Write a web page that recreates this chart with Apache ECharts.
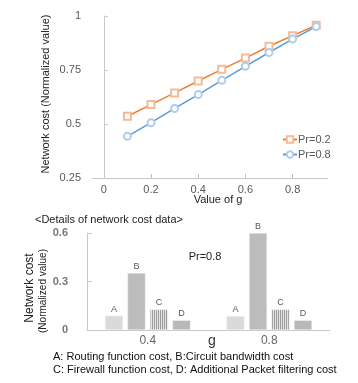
<!DOCTYPE html>
<html><head><meta charset="utf-8">
<script src="https://cdn.jsdelivr.net/npm/echarts@6/dist/echarts.min.js"></script>
<style>html,body{margin:0;padding:0;background:#fff}#c{width:358px;height:383px}</style>
</head><body><div id="c"></div>
<script>
const gValues = [0.1,0.2,0.3,0.4,0.5,0.6,0.7,0.8,0.9];
const pr02 = [0.536,0.590,0.644,0.699,0.753,0.805,0.860,0.909,0.957];
const pr08 = [0.443,0.506,0.572,0.636,0.702,0.767,0.831,0.893,0.951];
const xTickLabels = [0,0.2,0.4,0.6,0.8];
const barCategories = ['0.4','0.8'];
const costA = [0.088,0.086];
const costB = [0.353,0.600];
const costC = [0.127,0.127];
const costD = [0.060,0.060];

const F = 'Liberation Sans, Arial, sans-serif';
const axisGray = '#c8c8c8';
const lblGray = '#595959';
const chart = echarts.init(document.getElementById('c'), null, {renderer:'canvas'});

function barSeries(name, data, color, decal){
  const s = {
    name, type:'bar', xAxisIndex:1, yAxisIndex:1, data,
    barWidth:18, barGap:'25%',
    itemStyle:{color, borderColor:'#f2f2f2', borderWidth:0.5},
    label:{show:true, position:'top', formatter:name, fontFamily:F, fontSize:9, color:lblGray, distance:2},
    animation:false
  };
  if (decal) s.itemStyle.decal = decal;
  return s;
}

chart.setOption({
  animation:false,
  textStyle:{fontFamily:F},
  grid:[
    {left:92, top:16, width:236, height:162},
    {left:87, top:233, width:243, height:97}
  ],
  xAxis:[
    {type:'value', gridIndex:0, min:-0.05, max:0.95,
     axisLine:{show:true, lineStyle:{color:axisGray}},
     axisTick:{show:true, inside:true, length:4, customValues:[0.2,0.4,0.6,0.8], lineStyle:{color:'#a9c4e4'}},
     axisLabel:{customValues:xTickLabels, color:lblGray, fontSize:11, margin:6, fontFamily:F},
     splitLine:{show:false}},
    {type:'category', gridIndex:1, data:barCategories,
     axisLine:{show:true, lineStyle:{color:axisGray}},
     axisTick:{show:false},
     axisLabel:{color:'#666', fontSize:12, margin:5, fontFamily:F}}
  ],
  yAxis:[
    {type:'value', gridIndex:0, min:0.25, max:1, interval:0.25,
     axisLine:{show:true, lineStyle:{color:axisGray}},
     axisTick:{show:true, inside:true, length:4, lineStyle:{color:axisGray}},
     axisLabel:{color:lblGray, fontSize:11, margin:11, fontFamily:F},
     splitLine:{show:false}},
    {type:'value', gridIndex:1, min:0, max:0.6, interval:0.3,
     axisLine:{show:true, lineStyle:{color:axisGray}},
     axisTick:{show:true, inside:true, length:5, lineStyle:{color:axisGray}},
     axisLabel:{color:'#777', fontSize:11, fontWeight:'bold', margin:19, fontFamily:F},
     splitLine:{show:false}}
  ],
  legend:{
    data:['Pr=0.2','Pr=0.8'], orient:'vertical', left:277, top:129,
    itemWidth:14, itemHeight:8, itemGap:4,
    textStyle:{color:lblGray, fontSize:11, fontFamily:F, padding:[0,0,0,-4]}
  },
  series:[
    {name:'Pr=0.2', type:'line', xAxisIndex:0, yAxisIndex:0,
     data:gValues.map((g,i)=>[g,pr02[i]]),
     symbol:'emptyRect', symbolSize:7,
     lineStyle:{color:'#ed7d31', width:1.5},
     itemStyle:{color:'#f6bb96', borderColor:'#f6bb96', borderWidth:1}},
    {name:'Pr=0.8', type:'line', xAxisIndex:0, yAxisIndex:0,
     data:gValues.map((g,i)=>[g,pr08[i]]),
     symbol:'emptyCircle', symbolSize:7,
     lineStyle:{color:'#5b9bd5', width:1.5},
     itemStyle:{color:'#afcdeb', borderColor:'#afcdeb', borderWidth:1}},
    barSeries('A', costA, '#dadada'),
    barSeries('B', costB, '#bcbcbc'),
    barSeries('C', costC, '#e6e6e6', {symbol:'rect', symbolSize:1, dashArrayX:[1,1], dashArrayY:[4,0], rotation:0, color:'#9a9a9a'}),
    barSeries('D', costD, '#b8b8b8')
  ],
  graphic:[
    {type:'text', x:46, y:94, rotation:Math.PI/2,
     style:{text:'Network cost (Normalized value)', font:'11px '+F, fill:'#222', align:'center', verticalAlign:'middle'}},
    {type:'text', x:218, y:200,
     style:{text:'Value of g', font:'11px '+F, fill:'#222', align:'center', verticalAlign:'middle'}},
    {type:'text', x:35, y:220,
     style:{text:'<Details of network cost data>', font:'11px '+F, fill:'#222', align:'left', verticalAlign:'middle'}},
    {type:'text', x:205, y:257,
     style:{text:'Pr=0.8', font:'11px '+F, fill:'#222', align:'center', verticalAlign:'middle'}},
    {type:'text', x:30, y:288, rotation:Math.PI/2,
     style:{text:'Network cost', font:'12px '+F, fill:'#222', align:'center', verticalAlign:'middle'}},
    {type:'text', x:43, y:291, rotation:Math.PI/2,
     style:{text:'(Normalized value)', font:'10px '+F, fill:'#222', align:'center', verticalAlign:'middle'}},
    {type:'text', x:212, y:341,
     style:{text:'g', font:'14px '+F, fill:'#333', align:'center', verticalAlign:'middle'}},
    {type:'text', x:53, y:357,
     style:{text:'A: Routing function cost, B:Circuit bandwidth cost', font:'11px '+F, fill:'#111', align:'left', verticalAlign:'middle'}},
    {type:'text', x:53, y:370,
     style:{text:'C: Firewall function cost, D: Additional Packet filtering cost', font:'11px '+F, fill:'#111', align:'left', verticalAlign:'middle'}}
  ]
});
</script></body></html>
